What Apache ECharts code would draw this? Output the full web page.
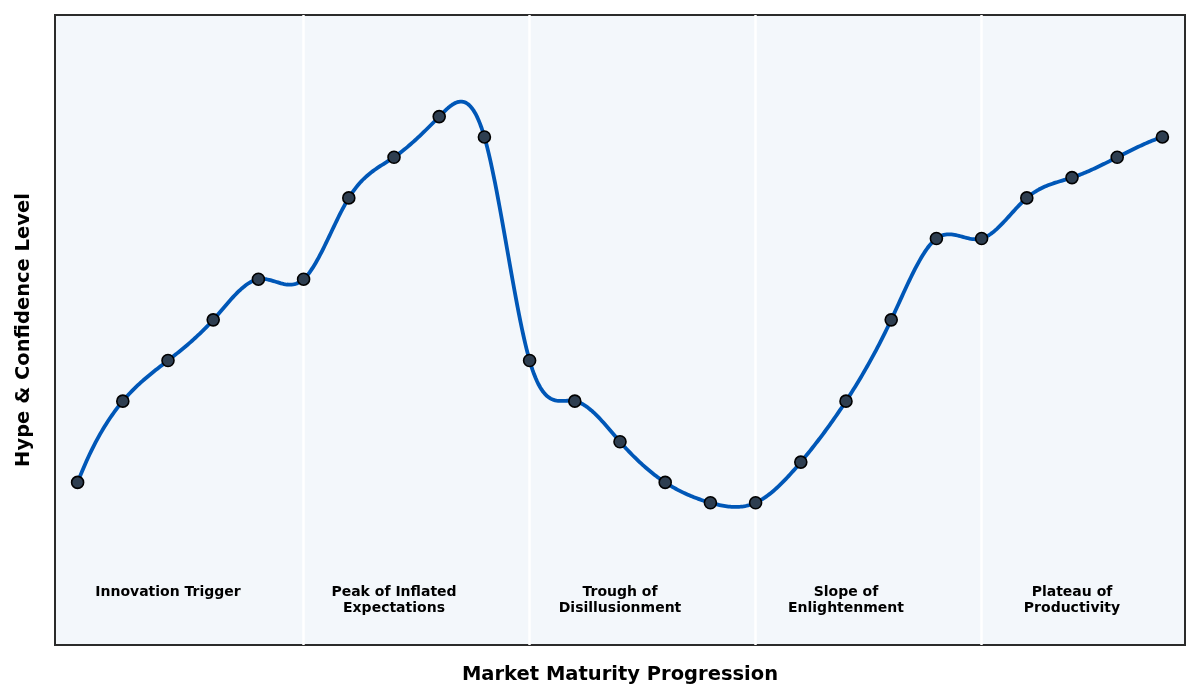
<!DOCTYPE html>
<html>
<head>
<meta charset="utf-8">
<script src="https://cdn.jsdelivr.net/npm/echarts@6/dist/echarts.min.js"></script>
<style>html,body{margin:0;padding:0;background:#fff}#c{width:1200px;height:700px}</style>
</head>
<body>
<div id="c"></div>
<script>
// ---- data ----
const hypeValues = [20, 40, 50, 60, 70, 70, 90, 100, 110, 105, 50, 40, 30, 20, 15, 15, 25, 40, 60, 80, 80, 90, 95, 100, 105];
const phaseNames = ['Innovation Trigger', 'Peak of Inflated\nExpectations', 'Trough of\nDisillusionment', 'Slope of\nEnlightenment', 'Plateau of\nProductivity'];
const phaseLabelX = [2, 7, 12, 17, 22];
const phaseLabelY = -5;
const phaseBoundaries = [5, 10, 15, 20];

// ---- not-a-knot cubic spline (second derivatives), uniform spacing ----
function splineM(y) {
  const n = y.length;
  const A = [], b = [];
  for (let i = 0; i < n; i++) { A.push(new Array(n).fill(0)); b.push(0); }
  A[0][0] = 1; A[0][1] = -2; A[0][2] = 1;
  for (let i = 1; i < n - 1; i++) {
    A[i][i - 1] = 1; A[i][i] = 4; A[i][i + 1] = 1;
    b[i] = 6 * (y[i + 1] - 2 * y[i] + y[i - 1]);
  }
  A[n - 1][n - 3] = 1; A[n - 1][n - 2] = -2; A[n - 1][n - 1] = 1;
  for (let k = 0; k < n; k++) {
    let p = k;
    for (let r = k + 1; r < n; r++) if (Math.abs(A[r][k]) > Math.abs(A[p][k])) p = r;
    [A[k], A[p]] = [A[p], A[k]]; [b[k], b[p]] = [b[p], b[k]];
    for (let r = k + 1; r < n; r++) {
      const f = A[r][k] / A[k][k];
      if (f === 0) continue;
      for (let c = k; c < n; c++) A[r][c] -= f * A[k][c];
      b[r] -= f * b[k];
    }
  }
  const M = new Array(n).fill(0);
  for (let k = n - 1; k >= 0; k--) {
    let s = b[k];
    for (let c = k + 1; c < n; c++) s -= A[k][c] * M[c];
    M[k] = s / A[k][k];
  }
  return M;
}
const M = splineM(hypeValues);
function splineAt(i, t) {
  const u = 1 - t;
  return u * hypeValues[i] + t * hypeValues[i + 1] + ((u * u * u - u) * M[i] + (t * t * t - t) * M[i + 1]) / 6;
}

const pointData = hypeValues.map((v, i) => [i, v]);
const segData = hypeValues.slice(0, -1).map((v, i) => [i, v]);
const labelData = phaseNames.map((n, i) => ({ value: [phaseLabelX[i], phaseLabelY], name: n }));

const chart = echarts.init(document.getElementById('c'));
chart.setOption({
  animation: false,
  grid: { left: 55, right: 15, top: 15, bottom: 55, show: true, backgroundColor: '#f3f7fb', borderColor: '#2b2b2b', borderWidth: 2 },
  xAxis: {
    type: 'value', min: -0.5, max: 24.5,
    name: 'Market Maturity Progression', nameLocation: 'middle', nameGap: 20,
    nameTextStyle: { fontFamily: 'DejaVu Sans', fontWeight: 'bold', fontSize: 19.5, color: '#000' },
    axisLine: { show: false }, axisTick: { show: false }, axisLabel: { show: false }, splitLine: { show: false }
  },
  yAxis: {
    type: 'value', min: -20, max: 135,
    name: 'Hype & Confidence Level', nameLocation: 'middle', nameGap: 21, nameRotate: 90,
    nameTextStyle: { fontFamily: 'DejaVu Sans', fontWeight: 'bold', fontSize: 19.5, color: '#000' },
    axisLine: { show: false }, axisTick: { show: false }, axisLabel: { show: false }, splitLine: { show: false }
  },
  series: [
    {
      type: 'custom', z: 3, silent: true, clip: true,
      data: segData,
      renderItem: function (params, api) {
        const i = api.value(0);
        const pts = [];
        const N = 30;
        for (let k = 0; k <= N; k++) {
          const t = k / N;
          pts.push(api.coord([i + t, splineAt(i, t)]));
        }
        return { type: 'polyline', shape: { points: pts }, style: { stroke: '#0057b7', lineWidth: 3.8, fill: null, lineJoin: 'round', lineCap: 'round' } };
      },
      markLine: {
        silent: true, symbol: 'none', label: { show: false }, z: 1,
        lineStyle: { color: '#ffffff', width: 2.5, type: 'solid', opacity: 1 },
        data: phaseBoundaries.map(x => ({ xAxis: x }))
      }
    },
    {
      type: 'scatter', z: 5, data: pointData, symbol: 'circle', symbolSize: 12,
      itemStyle: { color: '#2e3e50', borderColor: '#000000', borderWidth: 1.6, opacity: 1 }
    },
    {
      type: 'scatter', z: 4, data: labelData, symbolSize: 0, silent: true,
      itemStyle: { color: '#000' },
      label: {
        show: true, position: [0, 0], align: 'center', verticalAlign: 'top',
        formatter: p => p.name,
        fontFamily: 'DejaVu Sans', fontWeight: 'bold', fontSize: 14, lineHeight: 16, color: '#000000',
        textBorderWidth: 0, opacity: 1
      }
    }
  ]
});
</script>
</body>
</html>
